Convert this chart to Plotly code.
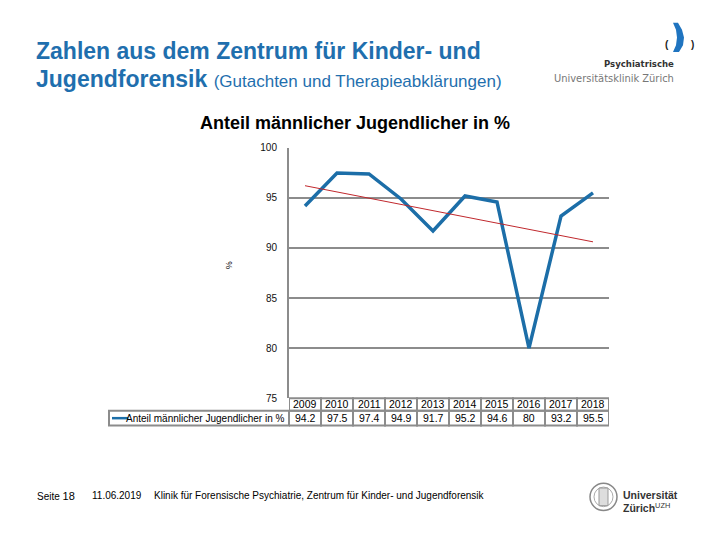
import numpy as np
import plotly.graph_objects as go

years = ["2009", "2010", "2011", "2012", "2013", "2014", "2015", "2016", "2017", "2018"]
share_male = [94.2, 97.5, 97.4, 94.9, 91.7, 95.2, 94.6, 80, 93.2, 95.5]
y_ticks = [75, 80, 85, 90, 95, 100]
series_name = "Anteil männlicher Jugendlicher in %"

# page has an 8px body margin: figure is 712x532 placed at (8,8)
OFF = 8
W, H = 712, 532
def px(x):
    return (x - OFF) / W
def py(y):
    return 1 - (y - OFF) / H

BLUE = "#1c6ea8"
GRAY = "#8c8c8c"
FONT = "Arial, Liberation Sans, sans-serif"
NARROW = "Liberation Sans Narrow, DejaVu Sans Condensed, Arial, sans-serif"

idx = np.arange(len(years))
slope, intercept = np.polyfit(idx, share_male, 1)
trend = list(intercept + slope * idx)

fig = go.Figure()
fig.add_trace(go.Scatter(x=years, y=share_male, mode="lines",
                         line=dict(color=BLUE, width=3.5), showlegend=False))
fig.add_trace(go.Scatter(x=years, y=trend, mode="lines",
                         line=dict(color="#c0282d", width=1), showlegend=False))

x0p, x1p = px(289), px(609)
ytop, ybot = py(145), py(401)
fig.update_layout(
    width=W, height=H, autosize=False,
    margin=dict(l=0, r=0, t=0, b=0),
    paper_bgcolor="white", plot_bgcolor="white",
    xaxis=dict(domain=[x0p, x1p], type="category", range=[-0.5, 9.5],
               showticklabels=False, showgrid=False, zeroline=False, ticks=""),
    yaxis=dict(domain=[ybot, ytop], range=[75, 100], tickvals=y_ticks,
               showgrid=True, gridcolor=GRAY, gridwidth=2,
               showline=True, linecolor=GRAY, linewidth=2,
               zeroline=False, ticks="", ticklabelstandoff=8,
               tickfont=dict(family=FONT, size=10, color="#111")),
    font=dict(family=FONT),
)

ann = []
shapes = []
TITLE_BLUE = "#1f6fae"

def text(x, y, s, size, color="black", family=FONT, xanchor="left", **kw):
    ann.append(dict(x=px(x), y=py(y), xref="paper", yref="paper", xanchor=xanchor,
                    yanchor="middle", text=s, showarrow=False,
                    font=dict(family=family, size=size, color=color), **kw))

# Slide title
text(34, 46, "<b>Zahlen aus dem Zentrum für Kinder- und</b>", 23, TITLE_BLUE)
text(34, 75, "<b>Jugendforensik</b> <span style='font-size:17px'>(Gutachten und Therapieabklärungen)</span>",
     23, TITLE_BLUE)

# Chart title
text(355, 120, "<b>" + series_name + "</b>", 18, xanchor="center")
# Y axis title
text(229, 265, "%", 9, xanchor="center", textangle=-90)

# Data table
r1t, r1b = py(401), py(414)
r2t, r2b = py(414), py(429)
for i, (yr, v) in enumerate(zip(years, share_male)):
    shapes.append(dict(type="rect", xref="x", yref="paper", x0=i - 0.5, x1=i + 0.5,
                       y0=r1b, y1=r1t, line=dict(color=GRAY, width=2)))
    shapes.append(dict(type="rect", xref="x", yref="paper", x0=i - 0.5, x1=i + 0.5,
                       y0=r2b, y1=r2t, line=dict(color=GRAY, width=2)))
    ann.append(dict(x=i, y=(r1t + r1b) / 2, xref="x", yref="paper", showarrow=False,
                    xanchor="center", yanchor="middle",
                    text=yr, font=dict(family=FONT, size=10.5, color="black")))
    ann.append(dict(x=i, y=(r2t + r2b) / 2, xref="x", yref="paper", showarrow=False,
                    xanchor="center", yanchor="middle",
                    text=f"{v:g}", font=dict(family=FONT, size=10.5, color="black")))
shapes.append(dict(type="rect", xref="paper", yref="paper", x0=px(109), x1=x0p,
                   y0=r2b, y1=r2t, line=dict(color=GRAY, width=2)))
shapes.append(dict(type="line", xref="paper", yref="paper", x0=px(112), x1=px(128),
                   y0=(r2t + r2b) / 2, y1=(r2t + r2b) / 2, line=dict(color=BLUE, width=2.5)))
text(287, 421.5, series_name, 10, xanchor="right")

# Footer
text(35, 501, "Seite <span style='font-size:11px'>18</span>", 10)
text(90, 501, "11.06.2019", 10)
text(152, 501, "Klinik für Forensische Psychiatrie, Zentrum für Kinder- und Jugendforensik", 10)

# PUK logo
def path(points):
    return "M " + " L ".join(f"{px(a):.5f},{py(b):.5f}" for a, b in points) + " Z"
shapes.append(dict(type="path", xref="paper", yref="paper",
                   path=path([(673, 17), (678, 17), (682, 24), (684, 32), (683, 40), (679, 47),
                              (673, 47), (676, 40), (677, 32), (676, 24)]),
                   fillcolor="#1f74c0", line=dict(width=0)))
text(667, 39, "<b>(</b>", 10, "#222", xanchor="center")
text(692, 39, "<b>)</b>", 10, "#222", xanchor="center")
text(676, 59, "<b>Psychiatrische</b>", 9.5, "#333", NARROW, xanchor="right")
text(676, 74, "Universitätsklinik Zürich", 11, "#777", NARROW, xanchor="right")

# UZH logo
shapes.append(dict(type="circle", xref="paper", yref="paper", x0=px(590), x1=px(617),
                   y0=py(516), y1=py(488), line=dict(color="#888", width=1.5)))
shapes.append(dict(type="circle", xref="paper", yref="paper", x0=px(594), x1=px(613),
                   y0=py(512), y1=py(492), line=dict(color="#aaa", width=1)))
shapes.append(dict(type="rect", xref="paper", yref="paper", x0=px(599), x1=px(608),
                   y0=py(511), y1=py(493), line=dict(color="#999", width=1), fillcolor="#ddd"))
text(621, 500, "<b>Universität</b>", 10.5, "#333")
text(621, 513, "<b>Zürich</b><sup style='font-size:5px'>UZH</sup>", 10.5, "#333")

fig.update_layout(annotations=ann, shapes=shapes)
fig.write_html("out.html")
